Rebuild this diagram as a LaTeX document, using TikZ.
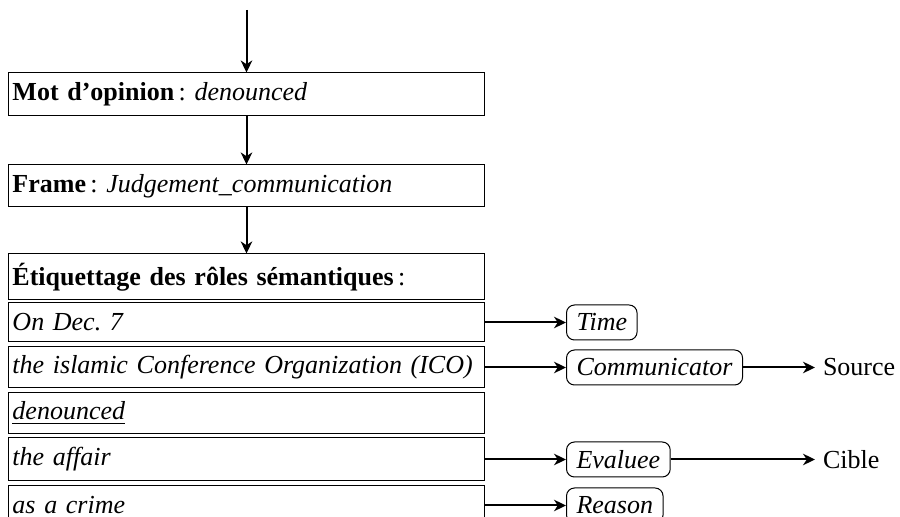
\documentclass[tikz,border=0pt]{standalone}
\usepackage{fontspec}
\setmainfont{Liberation Serif}
\usetikzlibrary{arrows.meta}
\begin{document}
\frenchspacing
\begin{tikzpicture}[x=0.4pt,y=-0.4pt,
  font=\fontsize{10.4}{12}\selectfont,
  arr/.style={-{Stealth[length=4.8pt,width=4.6pt,inset=1.5pt]}, line width=0.8pt},
  rowbox/.style={draw, line width=0.4pt, anchor=center, inner xsep=1.4pt, inner ysep=0pt,
    text width=187.2pt, align=left, minimum height=#1},
  rowbox/.default=16.4pt,
  role/.style={draw, rounded corners=3.2pt, line width=0.4pt, anchor=west,
    inner xsep=4pt, inner ysep=0pt, minimum height=14pt},
  lab/.style={anchor=west, inner xsep=3pt}]
\useasboundingbox (0,0) rectangle (900,517);
\coordinate (top) at (246.5,10);
\node[rowbox=17.2pt] (mot) at (246.5,94.5) {\textbf{Mot d’opinion}\,: \textit{denounced}};
\node[rowbox=16.8pt] (frame) at (246.5,186) {\textbf{Frame}\,: \textit{Judgement\_communication}};
\node[rowbox=18.4pt] (etiq) at (246.5,277) {\textbf{Étiquettage des rôles sémantiques}\,:};
\node[rowbox=15.6pt] (dec) at (246.5,322.5) {\textit{On Dec. 7}};
\node[rowbox=16.4pt] (ico) at (246.5,367.5) {\textit{the islamic Conference Organization (ICO)}};
\node[rowbox=16.4pt] (den) at (246.5,413.5) {\underline{\textit{denounced}}};
\node[rowbox=17.2pt] (aff) at (246.5,459.5) {\textit{the affair}};
\node[rowbox=16pt] (cri) at (246.5,505.5) {\textit{as a crime}};

\node[role] (time) at (566,322.5) {\textit{Time}};
\node[role] (comm) at (566,367.5) {\textit{Communicator}};
\node[role] (eval) at (566,459.5) {\textit{Evaluee}};
\node[role] (reas) at (566,505.5) {\textit{Reason}};

\node[lab] (src) at (815,367.5) {Source};
\node[lab] (cib) at (815,459.5) {Cible};

\draw[arr] (top) -- (mot.north);
\draw[arr] (mot.south) -- (frame.north);
\draw[arr] (frame.south) -- (etiq.north);
\draw[arr] (dec.east) -- (time.west);
\draw[arr] (ico.east) -- (comm.west);
\draw[arr] (aff.east) -- (eval.west);
\draw[arr] (cri.east) -- (reas.west);
\draw[arr] (comm.east) -- (src.west);
\draw[arr] (eval.east) -- (cib.west);
\end{tikzpicture}
\end{document}
